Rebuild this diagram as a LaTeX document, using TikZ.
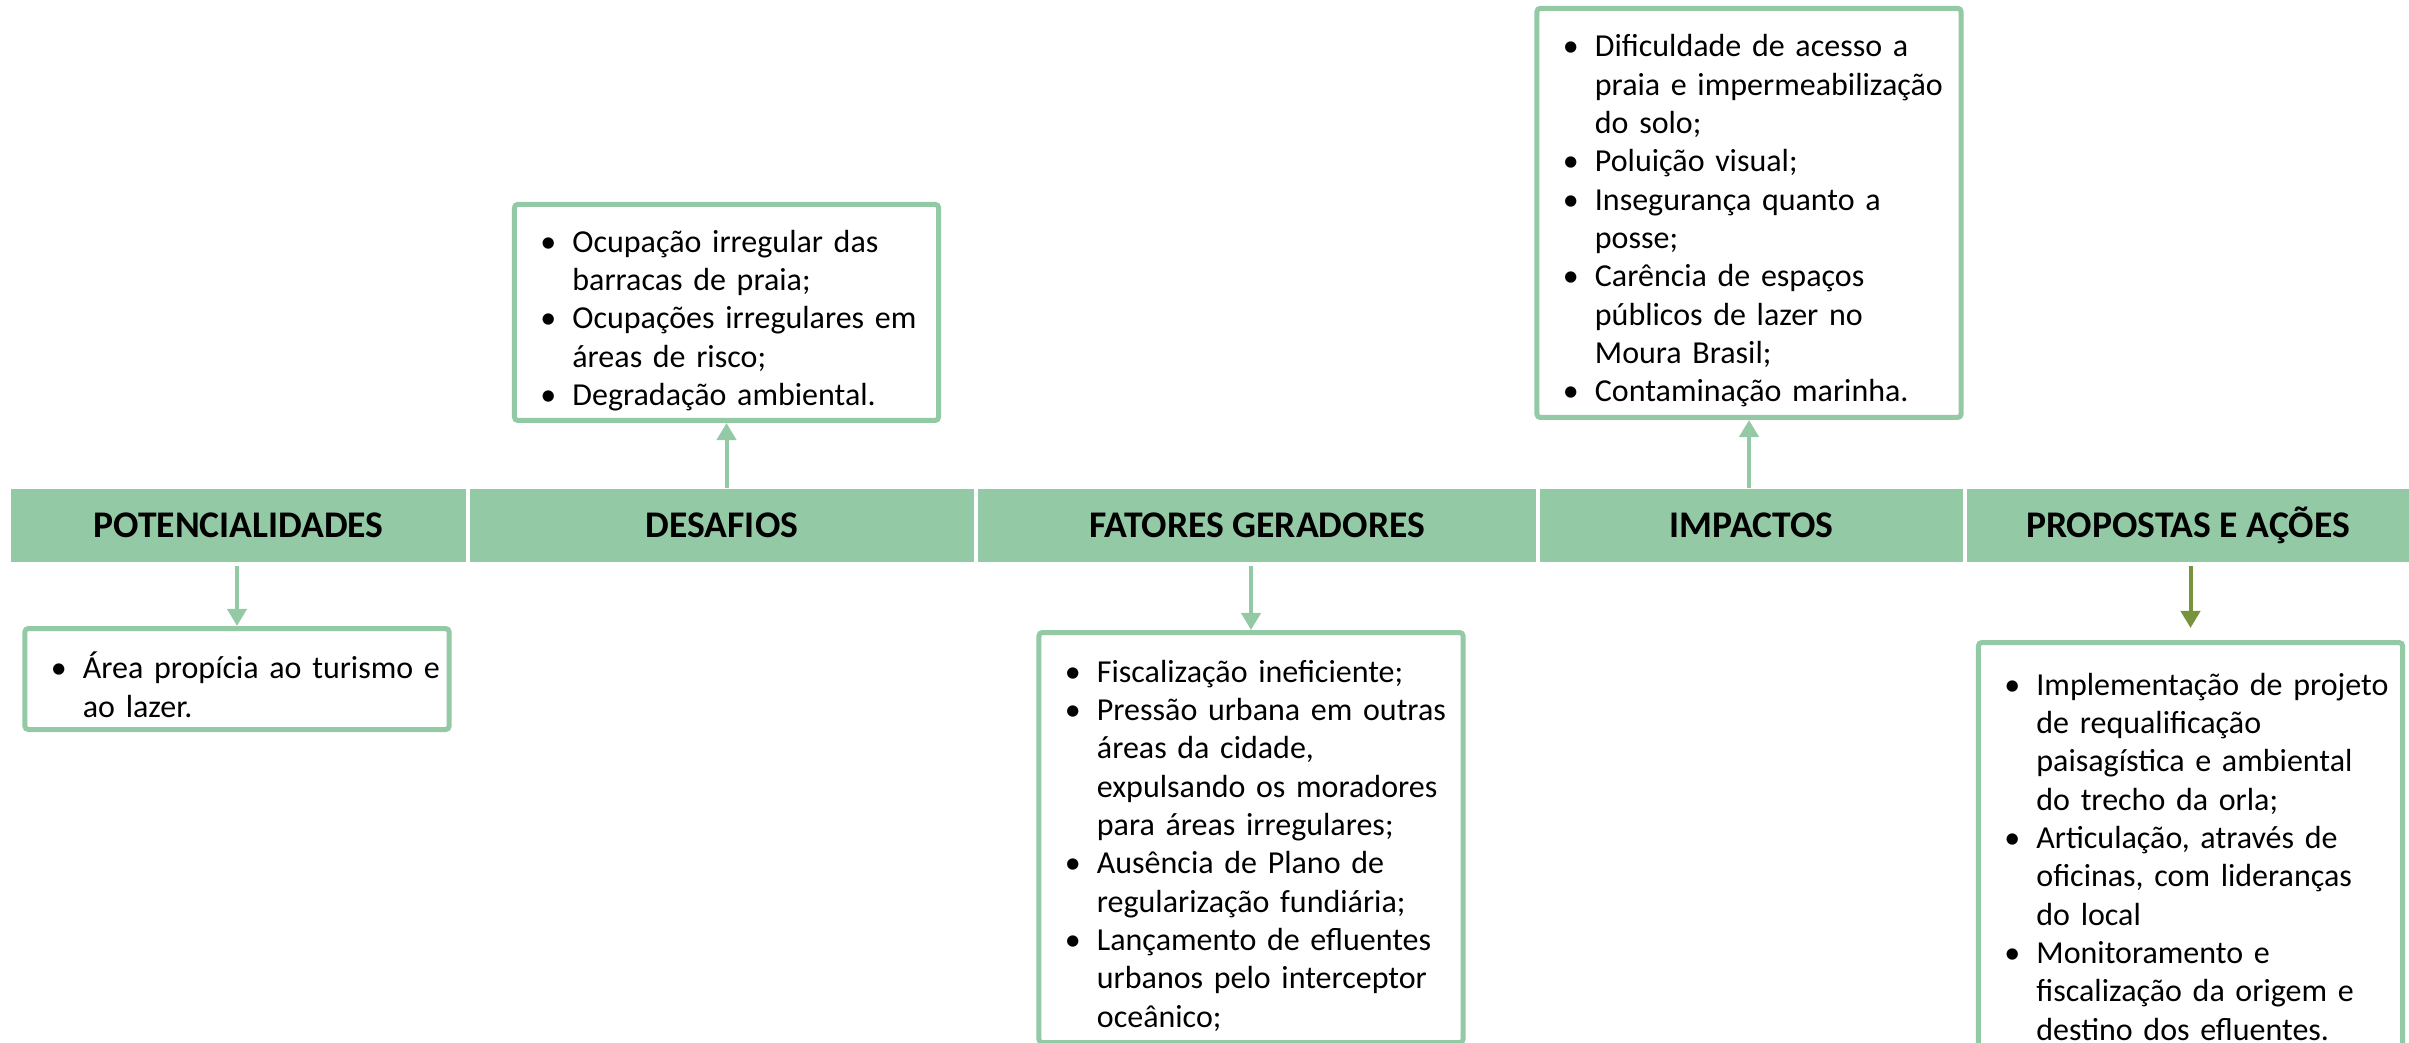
\documentclass[tikz,border=0pt]{standalone}
\usepackage{fontspec}
\setmainfont{Carlito}
\usetikzlibrary{positioning, arrows.meta}
\definecolor{leaf}{RGB}{148,201,166}
\definecolor{arrowolive}{RGB}{119,147,60}
\newcommand{\bitem}{\par\noindent\hangindent=0.58cm\hangafter=1\hbox to 0.58cm{\hspace{0.26cm}\textbullet\hfil}}

\begin{document}
\begin{tikzpicture}[x=0.01cm, y=-0.01cm,
    head/.style={fill=leaf, minimum height=0.73cm, inner sep=0pt, font=\fontsize{10.7}{12}\selectfont\bfseries},
    listbox/.style={draw=leaf, line width=0.05cm, rounded corners=1pt, fill=white, text width=4.24cm, inner xsep=0pt, inner ysep=0pt, align=left, font=\fontsize{9.1}{10.9}\selectfont},
    greenarrow/.style={draw=leaf, line width=0.04cm, -{Triangle[length=0.17cm, width=0.19cm]}},
    olivearrow/.style={greenarrow, draw=arrowolive}]
  \useasboundingbox (0,0) rectangle (2409,1043);
  \clip (0,0) rectangle (2409,1043);

  % Header band
  \foreach \cx/\w/\lab [count=\i] in {238.5/4.55/POTENCIALIDADES, 722/5.04/DESAFIOS, 1257/5.58/FATORES GERADORES, 1751.5/4.23/IMPACTOS, 2188/4.42/PROPOSTAS E AÇÕES}
  \node[head, minimum width=\w cm] (h\i) at (\cx,525.5) {\lab};

  % Boxes
  \node[listbox, anchor=north, minimum height=1.01cm] (b1) at (237,626)
    {\bitem Área propícia ao turismo e\newline ao lazer.\par};
  \node[listbox, anchor=south, minimum height=2.16cm] (b2) at (726.5,423)
    {\bitem Ocupação irregular das\newline barracas de praia;
     \bitem Ocupações irregulares em\newline áreas de risco;
     \bitem Degradação ambiental.\par};
  \node[listbox, anchor=north, minimum height=4.10cm] (b3) at (1251,630)
    {\bitem Fiscalização ineficiente;
     \bitem Pressão urbana em outras\newline áreas da cidade,\newline expulsando os moradores\newline para áreas irregulares;
     \bitem Ausência de Plano de\newline regularização fundiária;
     \bitem Lançamento de efluentes\newline urbanos pelo interceptor\newline oceânico;\par};
  \node[listbox, anchor=south, minimum height=4.09cm] (b4) at (1749,420)
    {\bitem Dificuldade de acesso a\newline praia e impermeabilização\newline do solo;
     \bitem Poluição visual;
     \bitem Insegurança quanto a\newline posse;
     \bitem Carência de espaços\newline públicos de lazer no\newline Moura Brasil;
     \bitem Contaminação marinha.\par};
  \node[listbox, anchor=north, minimum height=4.12cm] (b5) at (2190.5,640)
    {\bitem Implementação de projeto\newline de requalificação\newline paisagística e ambiental\newline do trecho da orla;
     \bitem Articulação, através de\newline oficinas, com lideranças\newline do local
     \bitem Monitoramento e\newline fiscalização da origem e\newline destino dos efluentes.\par};

  % Arrows
  \foreach \i in {1,3}
  \draw[greenarrow, shorten <=0.03cm] (h\i.south -| b\i.north) -- (b\i.north);
  \foreach \i in {2,4}
  \draw[greenarrow] (h\i.north -| b\i.south) -- (b\i.south);
  \draw[olivearrow, shorten <=0.03cm, shorten >=0.12cm] (h5.south -| b5.north) -- (b5.north);
\end{tikzpicture}
\end{document}
